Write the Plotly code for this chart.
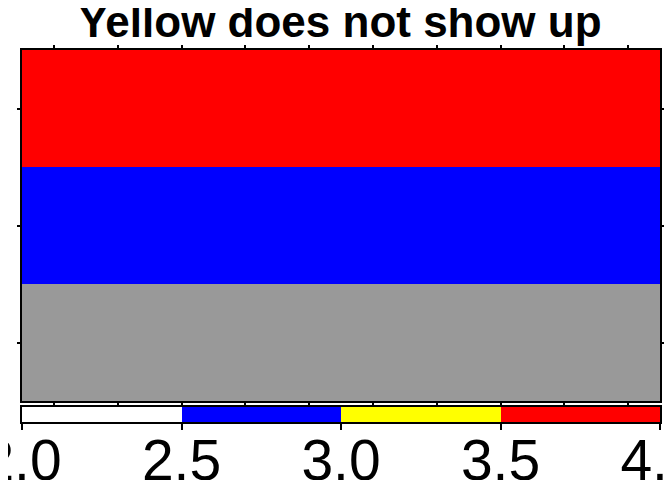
import numpy as np
import plotly.graph_objects as go

# Data
n_cols = 10
col_idx = list(range(n_cols))
row_idx = [0, 1, 2]
row_values = [1.5, 2.75, 3.75]   # bottom row lies below the colour range (shown grey)
z_min, z_max = 2.0, 4.0
cbar_ticks = [2.0, 2.5, 3.0, 3.5, 4.0]
level_colors = ["white", "blue", "yellow", "red"]
under_color = "#999999"
title_text = "Yellow does not show up"

z = np.array([[v] * n_cols for v in row_values], dtype=float)
z_in = np.where(z < z_min, np.nan, z)
z_under = np.where(z < z_min, z, np.nan)

n = len(level_colors)
cscale = []
for i, c in enumerate(level_colors):
    cscale.append([i / n, c])
    cscale.append([(i + 1) / n, c])

# colour-bar strip: one cell per level, centred in each level interval
edges = np.linspace(z_min, z_max, n + 1)
bar_centers = (edges[:-1] + edges[1:]) / 2

fig = go.Figure()
fig.add_trace(go.Heatmap(
    x=col_idx, y=row_idx, z=z_under,
    colorscale=[[0, under_color], [1, under_color]],
    showscale=False, hoverinfo="skip",
))
fig.add_trace(go.Heatmap(
    x=col_idx, y=row_idx, z=z_in,
    zmin=z_min, zmax=z_max, colorscale=cscale, showscale=False,
))
fig.add_trace(go.Heatmap(
    x=bar_centers, y=[0], z=[bar_centers],
    zmin=z_min, zmax=z_max, colorscale=cscale, showscale=False,
    xaxis="x2", yaxis="y2", hoverinfo="skip",
))

font = "Liberation Sans, Arial"
fig.update_layout(
    width=664, height=472,
    margin=dict(l=14, r=12, t=42, b=58, autoexpand=False),
    paper_bgcolor="white", plot_bgcolor="white",
    title=dict(text=f"<b>{title_text}</b>", x=0.5, xanchor="center",
               yref="container", y=1 - 14 / 472, yanchor="middle",
               font=dict(family=font, size=44, color="black")),
    showlegend=False,
    xaxis=dict(domain=[0, 1], anchor="y"),
    yaxis=dict(domain=[21 / 372, 1], anchor="x"),
    xaxis2=dict(domain=[0, 1], anchor="y2", range=[z_min, z_max],
                tickvals=cbar_ticks, ticktext=[f"{t:.1f}" for t in cbar_ticks],
                ticks="outside", ticklen=6, tickwidth=2, tickcolor="black",
                ticklabeloverflow="allow", ticklabelstandoff=-18,
                tickfont=dict(family=font, size=57, color="black"),
                showline=True, linecolor="black", linewidth=2, mirror=True,
                showgrid=False, zeroline=False),
    yaxis2=dict(domain=[0, 15 / 372], anchor="x2", range=[-0.5, 0.5],
                showticklabels=False, ticks="",
                showline=True, linecolor="black", linewidth=2, mirror=True,
                showgrid=False, zeroline=False),
)
fig.update_xaxes(selector=dict(anchor="y"), range=[-0.5, n_cols - 0.5], tickvals=col_idx,
                 showticklabels=False,
                 ticks="outside", ticklen=3, tickwidth=2, tickcolor="black",
                 showline=True, linecolor="black", linewidth=2, mirror="ticks",
                 showgrid=False, zeroline=False)
fig.update_yaxes(selector=dict(anchor="x"), range=[-0.5, 2.5], tickvals=row_idx,
                 showticklabels=False,
                 ticks="outside", ticklen=3, tickwidth=2, tickcolor="black",
                 showline=True, linecolor="black", linewidth=2, mirror="ticks",
                 showgrid=False, zeroline=False)

fig.write_html("out.html")
